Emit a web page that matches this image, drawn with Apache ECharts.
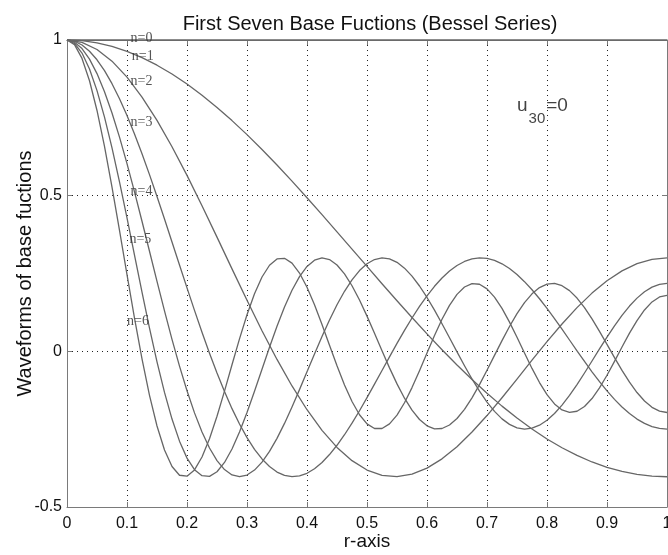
<!DOCTYPE html>
<html>
<head>
<meta charset="utf-8">
<script src="https://cdn.jsdelivr.net/npm/echarts@6/dist/echarts.min.js"></script>
<style>
html,body{margin:0;padding:0;background:#fff;}
#chart{width:668px;height:555px;}
</style>
</head>
<body>
<div id="chart"></div>
<script>
// r-axis sample positions (coarse for the slow waveforms, fine for the fast ones)
const rCoarse = [0,0.025,0.05,0.075,0.1,0.125,0.15,0.175,0.2,0.225,0.25,0.275,0.3,0.325,0.35,0.375,0.4,0.425,0.45,0.475,0.5,0.525,0.55,0.575,0.6,0.625,0.65,0.675,0.7,0.725,0.75,0.775,0.8,0.825,0.85,0.875,0.9,0.925,0.95,0.975,1];
const rFine = [0,0.0125,0.025,0.0375,0.05,0.0625,0.075,0.0875,0.1,0.1125,0.125,0.1375,0.15,0.1625,0.175,0.1875,0.2,0.2125,0.225,0.2375,0.25,0.2625,0.275,0.2875,0.3,0.3125,0.325,0.3375,0.35,0.3625,0.375,0.3875,0.4,0.4125,0.425,0.4375,0.45,0.4625,0.475,0.4875,0.5,0.5125,0.525,0.5375,0.55,0.5625,0.575,0.5875,0.6,0.6125,0.625,0.6375,0.65,0.6625,0.675,0.6875,0.7,0.7125,0.725,0.7375,0.75,0.7625,0.775,0.7875,0.8,0.8125,0.825,0.8375,0.85,0.8625,0.875,0.8875,0.9,0.9125,0.925,0.9375,0.95,0.9625,0.975,0.9875,1];

// waveforms
const n0 = [1,1,1,1,1,1,1,1,1,1,1,1,1,1,1,1,1,1,1,1,1,1,1,1,1,1,1,1,1,1,1,1,1,1,1,1,1,1,1,1,1];
const n1 = [1,0.9977,0.9908,0.9795,0.9636,0.9435,0.9191,0.8907,0.8585,0.8226,0.7834,0.7411,0.6960,0.6483,0.5985,0.5467,0.4935,0.4391,0.3839,0.3283,0.2727,0.2172,0.1624,0.1086,0.0560,0.0052,-0.0438,-0.0904,-0.1346,-0.1760,-0.2144,-0.2496,-0.2814,-0.3097,-0.3344,-0.3554,-0.3725,-0.3858,-0.3953,-0.4009,-0.4028];
const n2 = [1,0.9923,0.9695,0.9320,0.8807,0.8168,0.7417,0.6572,0.5652,0.4676,0.3668,0.2648,0.1640,0.0663,-0.0260,-0.1112,-0.1876,-0.2538,-0.3086,-0.3512,-0.3812,-0.3983,-0.4026,-0.3947,-0.3753,-0.3453,-0.3062,-0.2593,-0.2063,-0.1490,-0.0891,-0.0284,0.0311,0.0879,0.1404,0.1870,0.2267,0.2585,0.2815,0.2955,0.3001];
const n3 = [1,0.9960,0.9839,0.9639,0.9364,0.9015,0.8597,0.8115,0.7575,0.6984,0.6348,0.5675,0.4973,0.4250,0.3514,0.2774,0.2039,0.1317,0.0615,-0.0059,-0.0697,-0.1293,-0.1841,-0.2335,-0.2772,-0.3147,-0.3457,-0.3701,-0.3877,-0.3986,-0.4027,-0.4003,-0.3917,-0.3770,-0.3569,-0.3316,-0.3017,-0.2679,-0.2307,-0.1908,-0.1488,-0.1055,-0.0616,-0.0177,0.0254,0.0672,0.1070,0.1442,0.1783,0.2089,0.2355,0.2579,0.2756,0.2886,0.2968,0.3001,0.2984,0.2921,0.2812,0.2659,0.2467,0.2238,0.1978,0.1689,0.1378,0.1050,0.0710,0.0364,0.0017,-0.0325,-0.0657,-0.0974,-0.1271,-0.1543,-0.1787,-0.1999,-0.2176,-0.2315,-0.2416,-0.2477,-0.2497];
const n4 = [1,0.9931,0.9725,0.9386,0.8921,0.8340,0.7655,0.6880,0.6031,0.5124,0.4179,0.3214,0.2247,0.1299,0.0386,-0.0475,-0.1267,-0.1977,-0.2593,-0.3106,-0.3509,-0.3798,-0.3970,-0.4028,-0.3973,-0.3814,-0.3557,-0.3213,-0.2795,-0.2315,-0.1788,-0.1230,-0.0656,-0.0082,0.0477,0.1007,0.1495,0.1928,0.2297,0.2594,0.2812,0.2948,0.3001,0.2970,0.2858,0.2671,0.2415,0.2098,0.1730,0.1323,0.0887,0.0435,-0.0018,-0.0463,-0.0887,-0.1279,-0.1629,-0.1928,-0.2169,-0.2346,-0.2456,-0.2497,-0.2468,-0.2372,-0.2213,-0.1995,-0.1726,-0.1413,-0.1067,-0.0696,-0.0311,0.0077,0.0458,0.0820,0.1155,0.1454,0.1709,0.1913,0.2063,0.2153,0.2184];
const n5 = [1,0.9894,0.9581,0.9069,0.8375,0.7521,0.6534,0.5444,0.4285,0.3092,0.1901,0.0747,-0.0337,-0.1320,-0.2176,-0.2885,-0.3430,-0.3801,-0.3995,-0.4015,-0.3868,-0.3569,-0.3136,-0.2594,-0.1967,-0.1284,-0.0575,0.0131,0.0806,0.1424,0.1962,0.2401,0.2726,0.2927,0.3001,0.2948,0.2773,0.2488,0.2106,0.1647,0.1131,0.0580,0.0018,-0.0531,-0.1046,-0.1505,-0.1891,-0.2190,-0.2391,-0.2488,-0.2479,-0.2367,-0.2157,-0.1862,-0.1494,-0.1070,-0.0609,-0.0131,0.0344,0.0797,0.1209,0.1563,0.1847,0.2048,0.2160,0.2180,0.2108,0.1949,0.1711,0.1404,0.1043,0.0643,0.0222,-0.0203,-0.0613,-0.0992,-0.1324,-0.1597,-0.1799,-0.1923,-0.1965];
const n6 = [1,0.9850,0.9408,0.8692,0.7736,0.6581,0.5278,0.3885,0.2461,0.1066,-0.0242,-0.1412,-0.2399,-0.3169,-0.3700,-0.3980,-0.4011,-0.3808,-0.3395,-0.2807,-0.2085,-0.1277,-0.0432,0.0401,0.1175,0.1849,0.2387,0.2765,0.2967,0.2988,0.2832,0.2514,0.2059,0.1496,0.0862,0.0195,-0.0464,-0.1078,-0.1612,-0.2036,-0.2330,-0.2479,-0.2478,-0.2330,-0.2048,-0.1651,-0.1165,-0.0621,-0.0051,0.0510,0.1029,0.1477,0.1829,0.2066,0.2176,0.2155,0.2007,0.1742,0.1378,0.0939,0.0452,-0.0054,-0.0549,-0.1003,-0.1391,-0.1689,-0.1884,-0.1963,-0.1925,-0.1772,-0.1517,-0.1176,-0.0769,-0.0322,0.0138,0.0583,0.0988,0.1329,0.1587,0.1747,0.1801];

const curves = [[rCoarse,n0],[rCoarse,n1],[rCoarse,n2],[rFine,n3],[rFine,n4],[rFine,n5],[rFine,n6]];

// curve labels
const labelText = ['n=0','n=1','n=2','n=3','n=4','n=5','n=6'];
const labelR = [0.106,0.108,0.106,0.106,0.106,0.104,0.1];
const labelY = [1.004,0.949,0.868,0.736,0.514,0.360,0.096];

// tick labels
const xTickLabels = ['0','0.1','0.2','0.3','0.4','0.5','0.6','0.7','0.8','0.9','1'];
const yTickLabels = ['-0.5','0','0.5','1'];

// annotation anchor
const annoR = [0.75];
const annoY = [0.772];

const chart = echarts.init(document.getElementById('chart'), null, {renderer:'canvas'});

const lineColor = '#666';
const gridDot = {type:[1,4], color:'#222', width:1};
const frame = {show:true, onZero:false, lineStyle:{color:'#7a7a7a', width:1}};
const tickFont = {fontFamily:'Liberation Sans', fontSize:16, color:'#111'};

const series = curves.map(([rs, ys], k) => ({
  type:'line',
  name:'n'+k,
  data: rs.map((r,i)=>[r, ys[i]]),
  smooth: false,
  showSymbol:false,
  clip:false,
  lineStyle:{color:lineColor, width:1.3, join:'round'},
  z: 3
}));

series.push({
  type:'scatter',
  symbolSize:0,
  clip:false,
  data: labelText.map((t,i)=>[labelR[i], labelY[i], t]),
  label:{show:true, position:'right', distance:0, formatter:p=>p.data[2],
    fontFamily:'Liberation Serif', fontSize:14, color:'#2a2a2a'},
  z: 5, silent:true
});

series.push({
  type:'scatter',
  symbolSize:0,
  clip:false,
  data: annoR.map((r,i)=>[r, annoY[i]]),
  label:{show:true, position:'right', distance:0,
    formatter:'{u|u}{s|30}{u|=0}',
    rich:{
      u:{fontFamily:'Liberation Sans', fontSize:19, lineHeight:19, color:'#111', verticalAlign:'top'},
      s:{fontFamily:'Liberation Sans', fontSize:15, color:'#111', padding:[15,1,0,1], verticalAlign:'top'}
    }},
  z: 5, silent:true
});

chart.setOption({
  animation:false,
  backgroundColor:'#fff',
  title:{
    text:'First Seven Base Fuctions (Bessel Series)',
    left:365, top:9, textAlign:'center',
    textStyle:{fontFamily:'Liberation Sans', fontSize:20, fontWeight:'normal', color:'#111'}
  },
  grid:{left:67, right:1, top:40, bottom:48, containLabel:false, outerBoundsMode:'none'},
  xAxis:[{
    type:'value', min:0, max:1, interval:0.1,
    name:'r-axis', nameLocation:'middle', nameGap:25, nameMoveOverlap:false,
    nameTextStyle:{fontFamily:'Liberation Sans', fontSize:19, color:'#111'},
    axisLine:frame,
    axisTick:{show:true, inside:true, length:5, lineStyle:{color:'#7a7a7a'}},
    axisLabel:Object.assign({margin:9, formatter:v=>xTickLabels[Math.round(v*10)]}, tickFont),
    splitLine:{show:true, lineStyle:gridDot}
  },{
    type:'value', min:0, max:1, interval:0.1, position:'top',
    axisLine:frame,
    axisTick:{show:true, inside:true, length:5, lineStyle:{color:'#7a7a7a'}},
    axisLabel:{show:false}, splitLine:{show:false}
  }],
  yAxis:[{
    type:'value', min:-0.5, max:1, interval:0.5,
    name:'Waveforms of base fuctions', nameLocation:'middle', nameGap:32, nameMoveOverlap:false,
    nameTextStyle:{fontFamily:'Liberation Sans', fontSize:20, color:'#111'},
    axisLine:frame,
    axisTick:{show:true, inside:true, length:5, lineStyle:{color:'#7a7a7a'}},
    axisLabel:Object.assign({margin:5, formatter:v=>yTickLabels[Math.round((v+0.5)*2)]}, tickFont),
    splitLine:{show:true, lineStyle:gridDot}
  },{
    type:'value', min:-0.5, max:1, interval:0.5, position:'right',
    axisLine:frame,
    axisTick:{show:true, inside:true, length:5, lineStyle:{color:'#7a7a7a'}},
    axisLabel:{show:false}, splitLine:{show:false}
  }],
  series: series
});
</script>
</body>
</html>
